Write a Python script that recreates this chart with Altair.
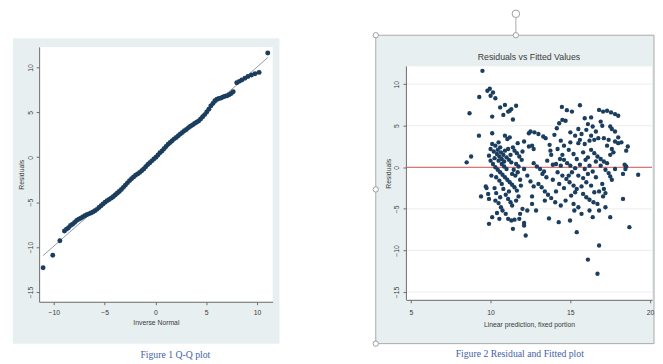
import altair as alt
import pandas as pd

# ---------------- Figure 1: Q-Q plot data ----------------
qq_x = [-11.05, -10.1, -9.4, -8.95, -8.75, -8.55, -8.35, -8.15, -7.95, -7.75, -7.55, -7.35,
        -7.15, -6.95, -6.75, -6.55, -6.35, -6.15, -5.95, -5.75, -5.55, -5.35, -5.15, -4.95,
        -4.75, -4.55, -4.35, -4.15, -3.95, -3.75, -3.55, -3.35, -3.15, -2.95, -2.75, -2.55,
        -2.35, -2.15, -1.95, -1.75, -1.55, -1.35, -1.15, -0.95, -0.75, -0.55, -0.35, -0.15,
        0.05, 0.25, 0.45, 0.65, 0.85, 1.05, 1.25, 1.45, 1.65, 1.85, 2.05, 2.25, 2.45, 2.65,
        2.85, 3.05, 3.25, 3.45, 3.65, 3.85, 4.05, 4.25, 4.45, 4.65, 4.85, 5.05, 5.25, 5.45,
        5.65, 5.85, 6.05, 6.25, 6.45, 6.65, 6.85, 7.05, 7.25, 7.45, 7.65, 8.0, 8.25, 8.5,
        8.8, 9.1, 9.45, 9.8, 10.2, 11.05]
qq_y = [-12.3, -10.9, -9.3, -8.2, -8.0, -7.85, -7.6, -7.45, -7.25, -7.05, -6.9, -6.8,
        -6.65, -6.5, -6.4, -6.3, -6.2, -6.1, -5.95, -5.8, -5.6, -5.4, -5.2, -5.0,
        -4.85, -4.7, -4.55, -4.4, -4.2, -4.0, -3.8, -3.6, -3.35, -3.1, -2.85, -2.6,
        -2.4, -2.2, -2.0, -1.85, -1.7, -1.5, -1.3, -1.05, -0.8, -0.6, -0.4, -0.2,
        0.0, 0.25, 0.5, 0.7, 0.95, 1.2, 1.45, 1.65, 1.85, 2.05, 2.2, 2.4, 2.6, 2.75,
        2.95, 3.1, 3.3, 3.45, 3.6, 3.75, 3.9, 4.05, 4.25, 4.5, 4.75, 5.05, 5.35, 5.7,
        6.0, 6.3, 6.45, 6.55, 6.6, 6.7, 6.8, 6.85, 6.95, 7.1, 7.3, 8.3, 8.45, 8.6,
        8.8, 9.0, 9.15, 9.3, 9.45, 11.6]
ref_x = [-11.05, 11.05]
ref_y = [-10.95, 11.1]

qq_xticks = [-10, -5, 0, 5, 10]
qq_yticks = [-15, -10, -5, 0, 5, 10]

# ---------------- Figure 2: residuals vs fitted (fitted, residual) ----------------
left_sparse = [(8.5, 0.6), (8.78, 1.3), (8.68, 6.5), (9.27, 3.8), (9.29, 8.45), (9.49, 11.6),
               (9.4, -3.5), (9.75, -2.5)]
left_upper = [(9.8, 9.2), (9.95, 9.45), (10.15, 9.0), (10.0, 8.6), (10.3, 8.3), (10.1, 6.1),
              (10.6, 7.2), (10.9, 7.5), (11.1, 6.7), (11.3, 7.0), (11.6, 7.4), (10.8, 6.3),
              (11.4, 5.75), (11.2, 6.8), (10.1, 4.1), (10.9, 3.8), (11.05, 3.4), (11.2, 3.6),
              (12.4, 4.1), (10.5, 3.0), (11.7, 2.9), (10.3, 2.6), (10.6, 2.4), (10.1, 2.8)]
left_mid = [(10.0, 2.2), (10.2, 1.9), (10.4, 1.6), (10.55, 1.3), (10.7, 1.0), (10.85, 0.7),
            (10.45, 2.1), (10.65, 1.8), (10.8, 1.5), (11.0, 1.2), (11.15, 0.9), (11.3, 0.6),
            (11.5, 2.0), (11.65, 1.7), (11.8, 1.3), (11.95, 0.9), (11.4, 2.4), (11.1, 2.2),
            (10.9, 2.0), (10.0, 0.8), (10.15, 0.4), (10.3, 0.0), (10.45, -0.3), (10.6, -0.6),
            (10.75, -0.9), (10.9, -1.2), (11.05, -1.5), (11.2, -1.8), (11.35, -2.1), (11.5, -2.4),
            (11.65, -2.8), (10.7, 0.4), (10.85, 0.1), (11.0, -0.2), (11.6, 0.4), (11.75, 0.1),
            (11.7, -0.6), (11.55, -1.0), (11.45, -0.3), (9.9, 1.4), (10.05, -1.0), (12.0, 1.9),
            (12.1, -0.2), (10.25, 1.1), (10.5, 0.8), (10.35, -1.2), (10.55, -1.6), (10.7, -2.0),
            (11.25, 1.5), (11.35, -0.8), (11.85, -1.5), (11.9, -2.2)]
left_lower = [(9.7, -2.3), (9.85, -3.2), (9.9, -3.8), (10.25, -2.5), (10.35, -3.1), (10.5, -4.3),
              (10.65, -4.8), (10.75, -5.2), (10.95, -5.6), (10.8, -2.6), (10.95, -3.3), (11.1, -3.8),
              (11.25, -4.2), (11.35, -4.6), (11.15, -2.9), (10.1, -6.0), (9.9, -6.8), (11.1, -6.2),
              (11.3, -6.4), (11.5, -6.3), (11.8, -6.2), (11.4, -7.4), (12.2, -8.2), (12.0, -5.0),
              (11.85, -5.6), (12.1, -6.7), (11.6, -4.0), (11.75, -3.5), (10.4, -5.5), (10.55, -6.2),
              (12.1, -7.0), (10.3, -4.0), (10.6, -3.6)]
middle = [(12.5, 4.3), (12.75, 4.2), (13.0, 4.0), (13.45, 3.5), (13.3, 3.7), (12.1, 3.1),
          (12.4, 2.5), (12.7, 2.2), (12.6, 2.6), (13.7, 2.7), (13.75, 2.0), (13.8, 1.5),
          (12.7, 0.5), (12.9, 0.1), (13.1, -0.2), (13.35, -0.5), (12.3, -1.0), (12.5, -1.7),
          (12.7, -2.3), (13.0, -2.0), (13.2, -2.4), (13.4, -2.9), (13.6, -3.3), (13.8, -3.7),
          (14.05, -4.2), (13.25, -0.8), (13.5, -1.2), (12.3, -5.2), (12.85, -5.2), (13.66, -6.15),
          (12.6, -4.4), (12.6, -3.5), (13.4, -4.0), (13.9, 0.3), (13.55, 0.8)]
right_upper = [(14.47, 7.26), (14.78, 6.87), (15.6, 7.46), (15.1, 6.7), (14.7, 5.6), (14.5, 5.7),
               (14.3, 5.3), (14.15, 4.7), (14.0, 3.9), (16.8, 6.9), (17.05, 6.7), (17.3, 6.8),
               (17.55, 6.6), (17.8, 6.4), (18.0, 6.2), (16.9, 5.5), (17.0, 5.0), (17.5, 4.9),
               (17.6, 4.6), (16.1, 5.2), (16.4, 4.9), (15.9, 5.9), (16.3, 6.0), (15.0, 4.2),
               (15.3, 3.8), (16.0, 4.5)]
right_mid = [(16.6, 4.3), (16.3, 3.8), (16.75, 3.5), (16.5, 3.3), (15.5, 4.6), (15.7, 4.0),
             (15.6, 3.3), (15.9, 2.8), (15.5, 2.9), (14.4, 3.2), (14.6, 2.6), (14.9, 2.1),
             (15.2, 1.6), (15.4, 1.0), (15.0, 3.0), (14.5, 1.5), (17.1, 3.5), (17.4, 3.3),
             (17.8, 3.1), (18.0, 2.9), (18.6, 2.5), (18.2, 3.0), (18.0, 3.6), (17.8, 4.3),
             (16.3, 2.1), (16.5, 1.7), (16.7, 1.3), (16.9, 1.0), (17.1, 0.7), (17.3, 0.5),
             (18.5, 2.0), (17.6, 2.2), (17.5, 1.5), (14.2, 2.2), (15.8, 1.8), (16.1, 1.2),
             (16.2, 3.2), (17.3, 2.6), (17.7, 1.8), (15.95, 0.9), (14.35, 1.0)]
right_zero = [(14.1, 0.4), (14.4, 0.2), (14.6, 0.9), (14.8, 0.5), (15.0, 0.2), (15.3, -0.1),
              (15.6, 0.3), (15.9, -0.2), (16.2, 0.2), (16.4, -0.5), (15.1, -0.6), (15.5, -1.0),
              (15.8, -1.3), (16.0, -1.8), (16.3, -2.2), (14.2, -0.6), (14.5, -1.0), (14.75, -1.4),
              (14.95, -1.8), (15.2, -2.2), (15.4, -2.6), (15.3, -3.0), (15.05, -3.4), (16.6, 0.7),
              (16.9, 0.2), (17.2, -0.3), (17.4, -0.7), (17.6, -1.5), (17.5, -1.1), (18.3, -0.8),
              (18.5, 0.1), (18.4, 0.3), (18.45, -0.2), (19.25, -0.9), (17.0, -2.0), (17.1, -2.6),
              (17.2, -3.1), (17.05, -3.5), (16.5, -3.0), (16.8, -2.9), (13.9, -1.5), (14.3, -2.0),
              (14.6, -2.5), (14.1, -2.9), (14.9, -1.0), (15.7, -2.3), (16.6, -1.2), (16.1, -0.8),
              (17.8, -0.2)]
right_lower = [(15.8, -3.2), (16.0, -3.6), (16.2, -3.9), (16.45, -4.2), (16.7, -4.4), (16.8, -5.2),
               (17.5, -6.0), (18.3, -3.8), (18.7, -7.2), (15.7, -5.6), (16.2, -5.2), (14.27, -6.6),
               (14.98, -6.4), (15.4, -7.8), (16.8, -9.4), (16.1, -11.1), (16.7, -12.8), (14.4, -4.6),
               (14.7, -4.0), (15.2, -4.4), (15.5, -4.8), (15.25, -5.2), (16.4, -6.0), (17.2, -4.8)]

rf_xticks = [5, 10, 15, 20]
rf_yticks = [-15, -10, -5, 0, 5, 10]
zero_line = [0]

title2 = "Residuals vs Fitted Values"
caption1 = "Figure 1 Q-Q plot"
caption2 = "Figure 2 Residual and Fitted plot"

# ---------------- styles ----------------
NAVY = "#1b3d5e"
FRAME = "#e8eff0"
AXC = "#6a6a6a"
TXT = "#3a3a3a"
CAPC = "#3f63a3"
FONT = "Liberation Sans"

def make_axis(values, title, angle=0, lpad=3, tpad=3, domain=True):
    return alt.Axis(values=values, title=title, labelAngle=angle, labelFontSize=7,
                    titleFontSize=7, titleFontWeight="normal", labelColor=TXT, titleColor=TXT,
                    labelFont=FONT, titleFont=FONT, domain=domain, domainColor=AXC, tickColor=AXC,
                    tickSize=3, labelPadding=lpad, titlePadding=tpad, grid=False, zindex=1,
                    labelFlush=False)

one = pd.DataFrame({"k": [0]})

# ---------------- left panel ----------------
W1, H1 = 240, 262
qq_df = pd.DataFrame({"q": qq_x, "r": qq_y})
ref_df = pd.DataFrame({"q": ref_x, "r": ref_y})
xs1 = alt.Scale(domain=[-11.44, 11.53], nice=False, zero=False)
ys1 = alt.Scale(domain=[-16.09, 12.29], nice=False, zero=False)

l_frame = alt.Chart(one).mark_rect(fill=FRAME).encode(
    x=alt.value(-27), x2=alt.value(W1 + 7), y=alt.value(-9), y2=alt.value(H1 + 43))
l_white = alt.Chart(one).mark_rect(fill="white").encode(
    x=alt.value(0), x2=alt.value(W1), y=alt.value(0), y2=alt.value(H1))
l_ref = alt.Chart(ref_df).mark_line(color="#8d99a5", strokeWidth=1).encode(
    x=alt.X("q:Q", scale=xs1, axis=make_axis(qq_xticks, "Inverse Normal", lpad=4, tpad=3)),
    y=alt.Y("r:Q", scale=ys1, axis=make_axis(qq_yticks, "Residuals", angle=270, lpad=3, tpad=2)))
l_pts = alt.Chart(qq_df).mark_circle(color=NAVY, size=26, opacity=1).encode(
    x="q:Q", y="r:Q")
l_cap = alt.Chart(pd.DataFrame({"t": [caption1]})).mark_text(
    font="Liberation Serif", fontSize=10, color=CAPC, align="center", baseline="middle").encode(
    x=alt.value(140), y=alt.value(317), text="t:N")

left = alt.layer(l_frame, l_white, l_ref, l_pts, l_cap).properties(width=W1, height=H1)

# ---------------- right panel ----------------
W2, H2 = 253, 260
TOP2 = 20  # white plot region starts this far below the view top
pts = left_sparse + left_upper + left_mid + left_lower + middle + right_upper + right_mid + right_zero + right_lower
rf_df = pd.DataFrame({"f": [p[0] for p in pts], "r": [p[1] for p in pts]})
grid_df = pd.DataFrame({"r": rf_yticks})
zero_df = pd.DataFrame({"r": zero_line})
xs2 = alt.Scale(domain=[4.694, 20.122], nice=False, zero=False)
ys2 = alt.Scale(domain=[-15.94, 14.48], nice=False, zero=False)

HX = 113
FT, FB = -12, 305  # frame top / bottom
r_frame = alt.Chart(one).mark_rect(fill=FRAME, stroke="#a9a9a9", strokeWidth=1).encode(
    x=alt.value(-31), x2=alt.value(W2 + 2), y=alt.value(FT), y2=alt.value(FB))
r_white = alt.Chart(one).mark_rect(fill="white").encode(
    x=alt.value(0), x2=alt.value(W2), y=alt.value(TOP2), y2=alt.value(H2))
r_grid = alt.Chart(grid_df).mark_rule(color="#ececec", strokeWidth=1).encode(
    y=alt.Y("r:Q", scale=ys2, axis=make_axis(rf_yticks, "Residuals", angle=270, lpad=4, tpad=1, domain=False)))
r_ydom = alt.Chart(one).mark_rule(color=AXC, strokeWidth=1).encode(
    x=alt.value(0.5), y=alt.value(TOP2), y2=alt.value(H2))
r_zero = alt.Chart(zero_df).mark_rule(color="#d2504c", strokeWidth=1).encode(y="r:Q")
r_pts = alt.Chart(rf_df).mark_circle(color=NAVY, size=20, opacity=1).encode(
    x=alt.X("f:Q", scale=xs2, axis=make_axis(rf_xticks, "Linear prediction, fixed portion", lpad=6, tpad=5)),
    y="r:Q")
r_title = alt.Chart(pd.DataFrame({"t": [title2]})).mark_text(
    font=FONT, fontSize=9, color=TXT, align="center", baseline="middle").encode(
    x=alt.value(W2 / 2), y=alt.value(10), text="t:N")
r_cap = alt.Chart(pd.DataFrame({"t": [caption2]})).mark_text(
    font="Liberation Serif", fontSize=10, color=CAPC, align="center", baseline="middle").encode(
    x=alt.value(117), y=alt.value(316), text="t:N")
r_stem = alt.Chart(one).mark_rule(color="#a9a9a9", strokeWidth=1).encode(
    x=alt.value(HX), y=alt.value(-30), y2=alt.value(FT))
handle_style = dict(shape="circle", filled=True, fill="white", stroke="#9c9c9c", strokeWidth=1, opacity=1)
r_rot = alt.Chart(one).mark_point(size=60, **handle_style).encode(x=alt.value(HX), y=alt.value(-34))
r_h1 = alt.Chart(one).mark_point(size=30, **handle_style).encode(x=alt.value(-31), y=alt.value(FT))
r_h2 = alt.Chart(one).mark_point(size=30, **handle_style).encode(x=alt.value(-31), y=alt.value((FT + FB) / 2))
r_h3 = alt.Chart(one).mark_point(size=30, **handle_style).encode(x=alt.value(-31), y=alt.value(FB))
r_h4 = alt.Chart(one).mark_point(size=30, **handle_style).encode(x=alt.value(HX), y=alt.value(FT))

right = alt.layer(r_frame, r_white, r_grid, r_ydom, r_zero, r_pts, r_title, r_cap,
                  r_stem, r_rot, r_h1, r_h2, r_h3, r_h4).properties(width=W2, height=H2)

chart = alt.hconcat(left, right, spacing=94).properties(
    padding={"left": 5, "top": -5, "right": 0, "bottom": 0},
    background="white",
).configure_view(stroke=None)

chart.save("out.html", embed_options={"renderer": "svg", "actions": False})
